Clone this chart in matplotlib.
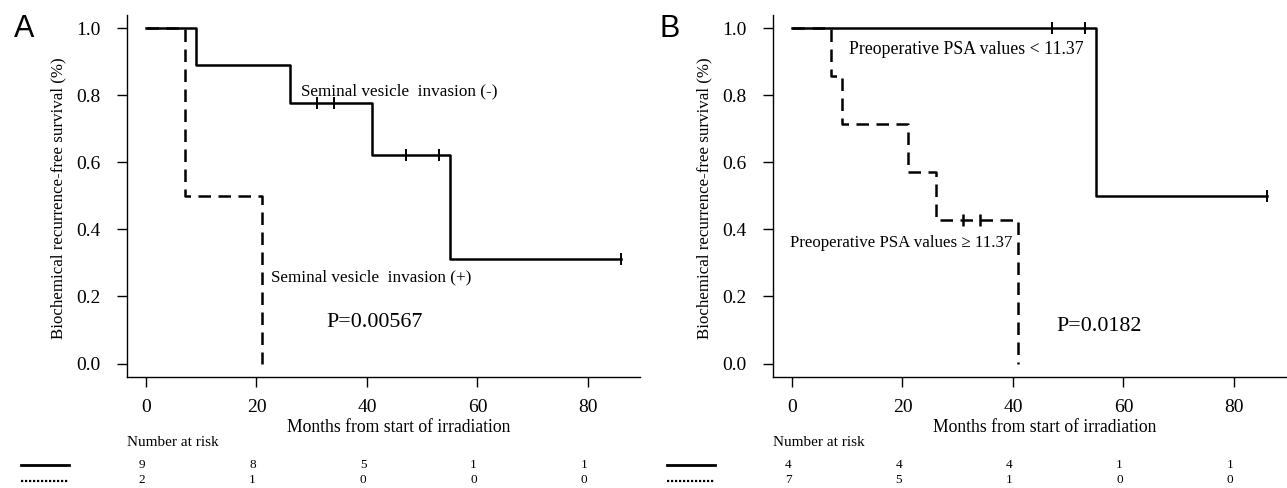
import matplotlib
matplotlib.use("Agg")
import matplotlib.pyplot as plt
from matplotlib.lines import Line2D
from matplotlib.transforms import blended_transform_factory

W, H, DPI = 1287, 488, 100
SERIF = ["Liberation Serif", "DejaVu Serif"]

month_ticks = [0, 20, 40, 60, 80]
surv_ticks = [0.0, 0.2, 0.4, 0.6, 0.8, 1.0]

# Panel A: seminal vesicle invasion
a_neg_t = [0, 9, 26, 41, 55, 86]
a_neg_s = [1.0, 0.889, 0.778, 0.622, 0.311, 0.311]
a_neg_cens_t = [31, 34, 47, 53, 86]
a_neg_cens_s = [0.778, 0.778, 0.622, 0.622, 0.311]
a_pos_t = [0, 7, 21]
a_pos_s = [1.0, 0.5, 0.0]
a_risk_neg = [9, 8, 5, 1, 1]
a_risk_pos = [2, 1, 0, 0, 0]

# Panel B: preoperative PSA
b_low_t = [0, 55, 86]
b_low_s = [1.0, 0.5, 0.5]
b_low_cens_t = [47, 53, 86]
b_low_cens_s = [1.0, 1.0, 0.5]
b_high_t = [0, 7, 9, 21, 26, 41]
b_high_s = [1.0, 0.857, 0.714, 0.571, 0.429, 0.0]
b_high_cens_t = [31, 34]
b_high_cens_s = [0.429, 0.429]
b_risk_low = [4, 4, 4, 1, 1]
b_risk_high = [7, 5, 1, 0, 0]

plt.rcParams["font.family"] = SERIF
fig = plt.figure(figsize=(W / DPI, H / DPI), dpi=DPI)

DASH = (0, (5, 3))


def fx(px):
    return px / W


def fy(py):
    return 1 - py / H


def panel(x0, letter, solid, dashed, notes, pval, risk):
    ax = fig.add_axes([fx(x0), fy(377), fx(513), (377 - 14.6) / H])
    ax.set_xlim(-3.44, 89.44)
    ax.set_ylim(-0.04, 1.04)
    for side in ["top", "right"]:
        ax.spines[side].set_visible(False)
    for side in ["left", "bottom"]:
        ax.spines[side].set_linewidth(1.0)
    ax.set_xticks(month_ticks)
    ax.set_yticks(surv_ticks)
    ax.set_yticklabels([f"{v:.1f}" for v in surv_ticks])
    ax.tick_params(direction="out", length=7, width=1, labelsize=14, pad=9)
    ax.tick_params(axis="y", pad=12)

    # dashed group first so the solid curve sits on top where they overlap
    t, s, ct, cs = dashed
    ax.step(t, s, where="post", color="black", lw=1.8, ls=DASH)
    if ct:
        ax.plot(ct, cs, ls="none", marker="|", ms=9, mew=1.8, color="black")
    t, s, ct, cs = solid
    ax.step(t, s, where="post", color="black", lw=1.8)
    ax.plot(ct, cs, ls="none", marker="|", ms=9, mew=1.4, color="black")

    for (x, y, txt, fs) in notes:
        ax.text(x, y, txt, fontsize=fs, ha="left", va="center")
    ax.text(pval[0], pval[1], pval[2], fontsize=15.8, ha="left", va="center")

    fig.text(fx(x0 - 127 + 58), fy(198), "Biochemical recurrence-free survival (%)",
             rotation=90, ha="center", va="center", fontsize=12.2)
    fig.text(fx(x0 - 127 + 399), fy(428), "Months from start of irradiation",
             ha="center", va="center", fontsize=12.7)
    fig.text(fx(x0 - 127 + 14), fy(37), letter, family=["Liberation Sans", "DejaVu Sans"],
             fontsize=22, ha="left", va="baseline")
    fig.text(fx(x0), fy(442), "Number at risk", fontsize=11, ha="left", va="center")

    tr = blended_transform_factory(ax.transData, fig.transFigure)
    for row, py in zip(risk, [465, 480]):
        for m, n in zip(month_ticks, row):
            fig.text(m - 0.7, fy(py), str(n), transform=tr, fontsize=9.5,
                     ha="center", va="center")
    lx0 = x0 - 127 + 21
    fig.add_artist(Line2D([fx(lx0), fx(lx0 + 48)], [fy(465)] * 2,
                          transform=fig.transFigure, color="black", lw=2))
    fig.add_artist(Line2D([fx(lx0), fx(lx0 + 48)], [fy(481)] * 2,
                          transform=fig.transFigure, color="black", lw=1.6,
                          ls=(0, (1, 0.8))))
    return ax


panel(127, "A",
      (a_neg_t, a_neg_s, a_neg_cens_t, a_neg_cens_s),
      (a_pos_t, a_pos_s, [], []),
      [(28, 0.81, "Seminal vesicle  invasion (-)", 12.3),
       (22.6, 0.257, "Seminal vesicle  invasion (+)", 12.3)],
      (32.7, 0.122, "P=0.00567"),
      [a_risk_neg, a_risk_pos])

panel(773, "B",
      (b_low_t, b_low_s, b_low_cens_t, b_low_cens_s),
      (b_high_t, b_high_s, b_high_cens_t, b_high_cens_s),
      [(10.3, 0.935, "Preoperative PSA values < 11.37", 12.8),
       (-0.4, 0.358, "Preoperative PSA values \u2265 11.37", 12.2)],
      (47.8, 0.11, "P=0.0182"),
      [b_risk_low, b_risk_high])

fig.savefig("out.png", dpi=DPI)
